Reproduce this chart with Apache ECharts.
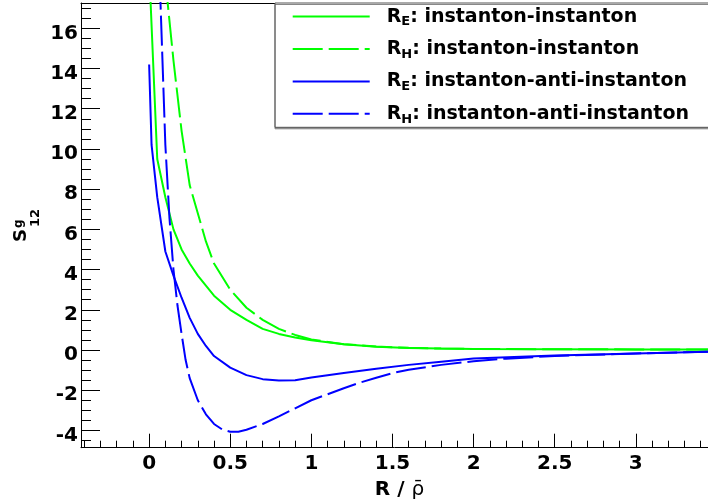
<!DOCTYPE html>
<html>
<head>
<meta charset="utf-8">
<script src="https://cdn.jsdelivr.net/npm/echarts@6/dist/echarts.min.js"></script>
<style>
  html, body { margin: 0; padding: 0; background: #fff; }
  #chart { width: 708px; height: 504px; }
</style>
</head>
<body>
<div id="chart"></div>
<script>
// ---- data ----
const seriesNames = [
  'R_E: instanton-instanton',
  'R_H: instanton-instanton',
  'R_E: instanton-anti-instanton',
  'R_H: instanton-anti-instanton'
];

const reIIx = [0, 0.05, 0.1, 0.15, 0.2, 0.25, 0.3, 0.35, 0.4, 0.5, 0.6, 0.7, 0.8, 0.9, 1.0, 1.2, 1.4, 1.6, 1.8, 2.0, 2.5, 3.0, 3.5];
const reIIy = [19.0, 9.5, 7.6, 6.0, 5.0, 4.3, 3.7, 3.2, 2.7, 2.0, 1.5, 1.05, 0.8, 0.62, 0.48, 0.28, 0.16, 0.1, 0.07, 0.05, 0.04, 0.03, 0.02];

const rhIIx = [0.1, 0.15, 0.2, 0.25, 0.3, 0.35, 0.4, 0.5, 0.6, 0.7, 0.8, 0.9, 1.0, 1.2, 1.4, 1.6, 1.8, 2.0, 2.5, 3.0, 3.5];
const rhIIy = [18.4, 14.4, 10.9, 8.2, 6.8, 5.4, 4.3, 3.0, 2.1, 1.5, 1.05, 0.75, 0.52, 0.29, 0.17, 0.11, 0.07, 0.05, 0.04, 0.03, 0.02];

const reIAx = [0, 0.015, 0.05, 0.1, 0.15, 0.2, 0.25, 0.3, 0.35, 0.4, 0.5, 0.6, 0.7, 0.8, 0.9, 1.0, 1.2, 1.4, 1.6, 1.8, 2.0, 2.5, 3.0, 3.5];
const reIAy = [14.2, 10.2, 7.6, 4.9, 3.7, 2.6, 1.6, 0.8, 0.2, -0.3, -0.88, -1.25, -1.45, -1.52, -1.5, -1.37, -1.15, -0.93, -0.74, -0.58, -0.42, -0.27, -0.17, -0.08];

const rhIAx = [0.05, 0.1, 0.125, 0.15, 0.175, 0.2, 0.225, 0.25, 0.3, 0.35, 0.4, 0.45, 0.5, 0.55, 0.6, 0.7, 0.8, 0.9, 1.0, 1.1, 1.2, 1.3, 1.4, 1.5, 1.6, 1.8, 2.0, 2.2, 2.5, 3.0, 3.5];
const rhIAy = [22.0, 10.2, 6.6, 4.0, 2.2, 0.8, -0.5, -1.4, -2.5, -3.2, -3.68, -3.95, -4.07, -4.07, -3.97, -3.68, -3.3, -2.9, -2.5, -2.2, -1.9, -1.62, -1.38, -1.15, -0.98, -0.74, -0.56, -0.43, -0.3, -0.17, -0.08];

const xMajorTicks = [0, 0.5, 1, 1.5, 2, 2.5, 3];
const xMinorTicks = [-0.4, -0.3, -0.2, -0.1, 0.1, 0.2, 0.3, 0.4, 0.6, 0.7, 0.8, 0.9, 1.1, 1.2, 1.3, 1.4, 1.6, 1.7, 1.8, 1.9, 2.1, 2.2, 2.3, 2.4, 2.6, 2.7, 2.8, 2.9, 3.1, 3.2, 3.3, 3.4];
const yMajorTicks = [-4, -2, 0, 2, 4, 6, 8, 10, 12, 14, 16];
const yMinorTicks = [-4.5, -3.5, -3, -2.5, -1.5, -1, -0.5, 0.5, 1, 1.5, 2.5, 3, 3.5, 4.5, 5, 5.5, 6.5, 7, 7.5, 8.5, 9, 9.5, 10.5, 11, 11.5, 12.5, 13, 13.5, 14.5, 15, 15.5, 16.5, 17];

const xRange = [-0.42, 3.445];
const yRange = [-4.86, 17.26];

// ---- chart ----
const FONT = 'DejaVu Sans';
const zip = (xs, ys) => xs.map((x, i) => [x, ys[i]]);
const seriesData = [zip(reIIx, reIIy), zip(rhIIx, rhIIy), zip(reIAx, reIAy), zip(rhIAx, rhIAy)];
const seriesColors = ['#00ff00', '#00ff00', '#0000ff', '#0000ff'];
const seriesDash = ['solid', [30, 6], 'solid', [30, 6]];

const chart = echarts.init(document.getElementById('chart'), null, { renderer: 'canvas' });

const legendRich = {
  sp: { width: 12, fontSize: 19, lineHeight: 24 },
  m: { fontFamily: FONT, fontWeight: 'bold', fontSize: 19, lineHeight: 24, color: '#000' },
  s: { fontFamily: FONT, fontWeight: 'bold', fontSize: 13, lineHeight: 14, verticalAlign: 'bottom', color: '#000' }
};

function legendFormat(name) {
  const parts = name.split(':');
  const head = parts[0].split('_');
  return '{sp|}{m|' + head[0] + '}{s|' + head[1] + '}{m|:' + parts.slice(1).join(':') + '}';
}

const option = {
  animation: false,
  backgroundColor: '#fff',
  grid: { left: 81, top: 3, right: 0, bottom: 56.3, outerBoundsMode: 'none' },
  legend: {
    left: 275, top: 3,
    orient: 'vertical',
    itemWidth: 77, itemHeight: 24, itemGap: 10.8,
    padding: [4, 120, 1.5, 16.7],
    backgroundColor: '#fff',
    borderColor: '#555', borderWidth: 1,
    shadowColor: '#888', shadowOffsetX: 0, shadowOffsetY: 1.5, shadowBlur: 0,
    selectedMode: false,
    itemStyle: { opacity: 0, borderWidth: 0 },
    data: seriesNames,
    formatter: legendFormat,
    textStyle: { rich: legendRich, color: '#000' }
  },
  xAxis: [
    {
      type: 'value', min: xRange[0], max: xRange[1], position: 'bottom',
      axisLine: { show: true, onZero: false, lineStyle: { color: '#000', width: 1 } },
      axisTick: { show: true, inside: true, length: 14, customValues: xMajorTicks, lineStyle: { color: '#000' } },
      axisLabel: { show: true, customValues: xMajorTicks, margin: 6, color: '#000', fontFamily: FONT, fontWeight: 'bold', fontSize: 20,
                   formatter: v => String(v) },
      splitLine: { show: false },
      name: '{b|R / }{r|ρ̄}',
      nameLocation: 'middle', nameGap: 32,
      nameTextStyle: {
        padding: [0, 0, 0, 10],
        rich: {
          b: { fontFamily: FONT, fontWeight: 'bold', fontSize: 20, color: '#000' },
          r: { fontFamily: FONT, fontWeight: 'normal', fontSize: 20, color: '#000' }
        }
      }
    },
    {
      type: 'value', min: xRange[0], max: xRange[1], position: 'bottom',
      axisLine: { show: false, onZero: false },
      axisTick: { show: true, inside: true, length: 7, customValues: xMinorTicks, lineStyle: { color: '#000' } },
      axisLabel: { show: false },
      splitLine: { show: false }
    },
    {
      type: 'value', min: xRange[0], max: xRange[1], position: 'top',
      axisLine: { show: true, onZero: false, lineStyle: { color: '#000', width: 1 } },
      axisTick: { show: false }, axisLabel: { show: false }, splitLine: { show: false }
    }
  ],
  yAxis: [
    {
      type: 'value', min: yRange[0], max: yRange[1], position: 'left',
      axisLine: { show: true, onZero: false, lineStyle: { color: '#000', width: 1 } },
      axisTick: { show: true, inside: true, length: 19, customValues: yMajorTicks, lineStyle: { color: '#000' } },
      axisLabel: { show: true, customValues: yMajorTicks, margin: 3, color: '#000', fontFamily: FONT, fontWeight: 'bold', fontSize: 20,
                   verticalAlign: 'top', lineHeight: 10, formatter: v => String(v) },
      splitLine: { show: false }
    },
    {
      type: 'value', min: yRange[0], max: yRange[1], position: 'left',
      axisLine: { show: false, onZero: false },
      axisTick: { show: true, inside: true, length: 10, customValues: yMinorTicks, lineStyle: { color: '#000' } },
      axisLabel: { show: false },
      splitLine: { show: false }
    }
  ],
  series: seriesNames.map((name, i) => ({
    name: name,
    type: 'line',
    xAxisIndex: 0, yAxisIndex: 0,
    data: seriesData[i],
    symbol: 'none',
    showSymbol: false,
    clip: true,
    lineStyle: { color: seriesColors[i], width: 2, type: seriesDash[i] },
    itemStyle: { color: seriesColors[i] },
    emphasis: { disabled: true }
  })),
  graphic: [
    {
      type: 'group', x: 30, y: 242, rotation: Math.PI / 2,
      children: [
        { type: 'text', x: 0, y: 0, style: { text: 'S', fontFamily: FONT, fontWeight: 'bold', fontSize: 18, fill: '#000', textAlign: 'left', textVerticalAlign: 'bottom' } },
        { type: 'text', x: 14, y: -5, style: { text: 'g', fontFamily: FONT, fontWeight: 'bold', fontSize: 12, fill: '#000', textAlign: 'left', textVerticalAlign: 'bottom' } },
        { type: 'text', x: 15, y: 12, style: { text: '12', fontFamily: FONT, fontWeight: 'bold', fontSize: 13, fill: '#000', textAlign: 'left', textVerticalAlign: 'bottom' } }
      ]
    }
  ]
};

chart.setOption(option);
</script>
</body>
</html>
